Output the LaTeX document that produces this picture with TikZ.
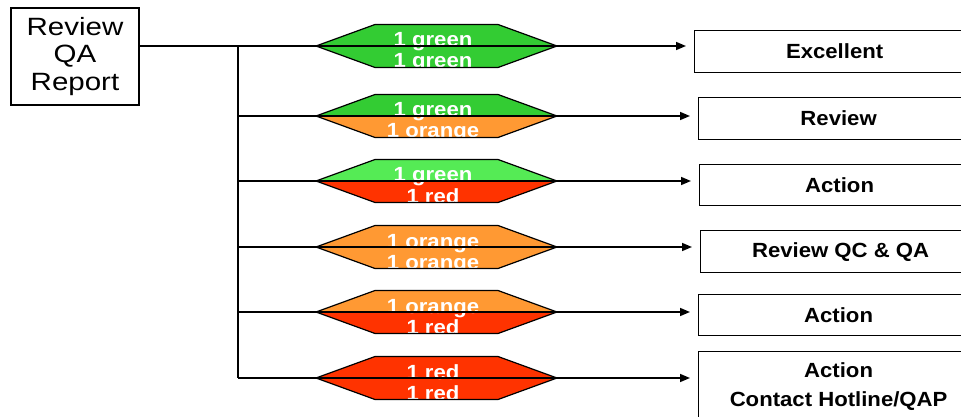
\documentclass[tikz,border=0pt]{standalone}
\usepackage{fontspec}
\setmainfont{Liberation Sans}
\newfontfamily\rootfont[FakeStretch=1.18]{Liberation Sans}
\newfontfamily\labfont[FakeStretch=1.08]{Liberation Sans}
\usetikzlibrary{arrows.meta}
\definecolor{gr}{HTML}{33CC33}
\definecolor{lgr}{HTML}{55EB55}
\definecolor{orn}{HTML}{FF9933}
\definecolor{rd}{HTML}{FF3300}
\tikzset{
  rootbox/.style={draw, line width=1.2pt, minimum width=128pt, minimum height=97pt, inner sep=0pt,
    align=center, font=\rootfont\fontsize{25}{27.5}\selectfont},
  outbox/.style={draw, line width=1.2pt, anchor=north west, minimum width=280pt, inner sep=0pt,
    align=center, font=\labfont\bfseries\fontsize{20.5}{29}\selectfont},
  hextext/.style={text=white, inner sep=0pt, anchor=base, font=\labfont\bfseries\fontsize{20.5}{24}\selectfont},
  conn/.style={line width=1.5pt},
  arr/.style={line width=1.5pt, -{Triangle[length=10pt,width=8pt]}, shorten >=8pt},
  hexline/.style={line width=1.2pt, line join=miter}
}
\newcommand\hexrow[6]{%
  \fill[#2] (316,#1) -- (375,#1-21.5) -- (498,#1-21.5) -- (557,#1) -- cycle;
  \fill[#3] (316,#1) -- (375,#1+21.5) -- (498,#1+21.5) -- (557,#1) -- cycle;
  \begin{scope}
    \clip (316,#1) -- (375,#1-21.5) -- (498,#1-21.5) -- (557,#1) -- (498,#1+21.5) -- (375,#1+21.5) -- cycle;
    \node[hextext] (h#6t) at (433,#1+1) {#4};
    \node[hextext] (h#6b) at (433,#1+22) {#5};
  \end{scope}
  \draw[hexline] (316,#1) -- (375,#1-21.5) -- (498,#1-21.5) -- (557,#1) -- (498,#1+21.5) -- (375,#1+21.5) -- cycle;
}
\begin{document}
\begin{tikzpicture}[x=1pt,y=-1pt]
\useasboundingbox (0,0) rectangle (961,417);

% root
\node[rootbox] (root) at (75,56.5) {Review\\QA\\Report};

% outcome boxes
\node[outbox, minimum height=42pt] (o1) at (694,30) {Excellent};
\node[outbox, minimum height=42pt] (o2) at (698,97) {Review};
\node[outbox, minimum height=41pt] (o3) at (699,164) {Action};
\node[outbox, minimum height=42pt] (o4) at (700,230) {Review QC \& QA};
\node[outbox, minimum height=41pt] (o5) at (698,294) {Action};
\node[outbox, minimum height=69pt] (o6) at (698,351) {Action\\Contact Hotline/QAP};

% hexagons
\hexrow{46}{gr}{gr}{1 green}{1 green}{1}
\hexrow{116}{gr}{orn}{1 green}{1 orange}{2}
\hexrow{181}{lgr}{rd}{1 green}{1 red}{3}
\hexrow{247}{orn}{orn}{1 orange}{1 orange}{4}
\hexrow{312}{orn}{rd}{1 orange}{1 red}{5}
\hexrow{378}{rd}{rd}{1 red}{1 red}{6}

% trunk coordinates
\coordinate (b1) at (238,46);
\coordinate (b2) at (238,116);
\coordinate (b3) at (238,181);
\coordinate (b4) at (238,247);
\coordinate (b5) at (238,312);
\coordinate (b6) at (238,378);

% connectors
\draw[conn] (b1) -- (b6);
\draw[arr] (root.east |- b1) -- (b1 -| o1.west);
\draw[arr] (b2) -- (b2 -| o2.west);
\draw[arr] (b3) -- (b3 -| o3.west);
\draw[arr] (b4) -- (b4 -| o4.west);
\draw[arr] (b5) -- (b5 -| o5.west);
\draw[arr] (b6) -- (b6 -| o6.west);
\end{tikzpicture}
\end{document}
